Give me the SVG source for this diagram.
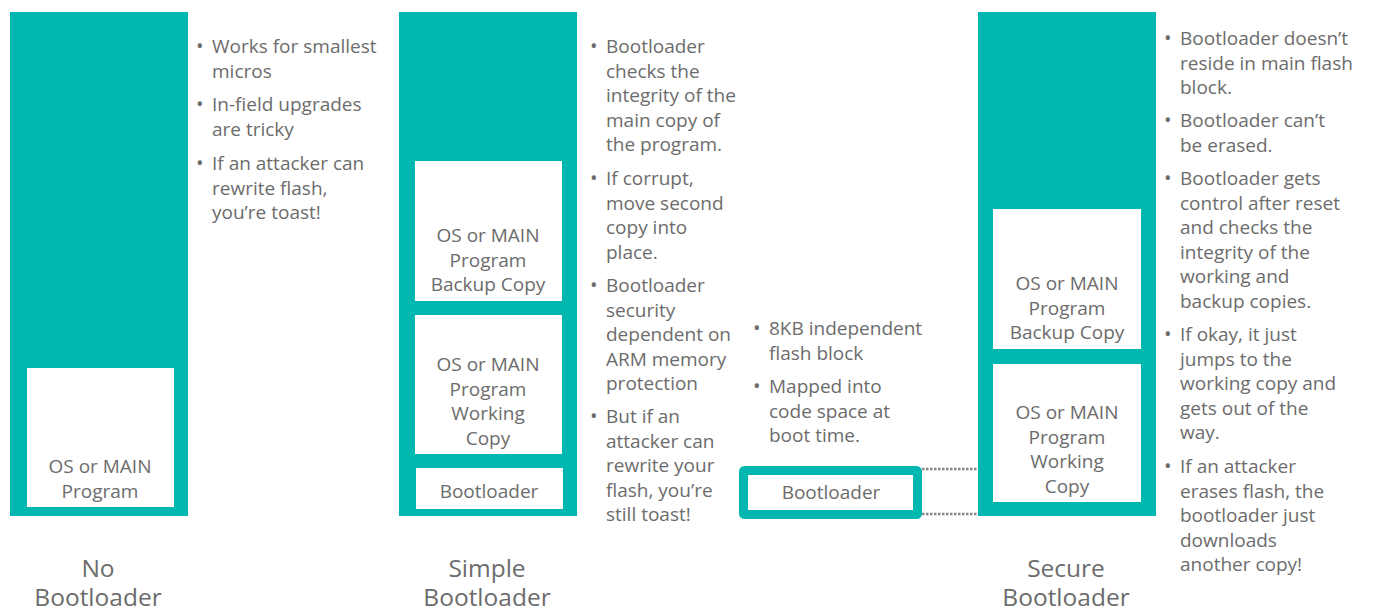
<svg xmlns="http://www.w3.org/2000/svg" width="1375" height="612" viewBox="0 0 1375 612">
<style>
.t{font-family:"Open Sans","Noto Sans","DejaVu Sans",sans-serif;fill:#6c6c6c}
.b{font-size:19px}
.c{font-size:19px;text-anchor:middle}
.h{font-size:24.5px;text-anchor:middle}
.d{font-size:20px}
.teal{fill:#00B8AF}
.w{fill:#ffffff}
.dot{stroke:#858585;stroke-width:2.5;stroke-dasharray:2.5 1.5;fill:none}
</style>
<rect width="1375" height="612" fill="#ffffff"/>

<g id="no-bootloader">
<rect class="teal" x="10" y="12" width="178" height="504"/>
<rect class="w" x="27" y="368" width="147" height="139"/>
<text class="t c" x="100" y="473">OS or MAIN</text>
<text class="t c" x="100" y="498">Program</text>
<text class="t h" x="98" y="577">No</text>
<text class="t h" x="98" y="606">Bootloader</text>
</g>

<g id="no-bootloader-notes" class="t b">
<text class="t d" x="196" y="53">•</text>
<text x="212" y="53">Works for smallest</text>
<text x="212" y="77.5">micros</text>
<text class="t d" x="196" y="111">•</text>
<text x="212" y="111">In-field upgrades</text>
<text x="212" y="135.5">are tricky</text>
<text class="t d" x="196" y="170">•</text>
<text x="212" y="170">If an attacker can</text>
<text x="212" y="194.5">rewrite flash,</text>
<text x="212" y="219">you’re toast!</text>
</g>

<g id="simple-bootloader">
<rect class="teal" x="399" y="12" width="178" height="504"/>
<rect class="w" x="415" y="161" width="147" height="140"/>
<rect class="w" x="415" y="315" width="147" height="139"/>
<rect class="w" x="416" y="468" width="147" height="41"/>
<text class="t c" x="488" y="242">OS or MAIN</text>
<text class="t c" x="488" y="266.5">Program</text>
<text class="t c" x="488" y="291">Backup Copy</text>
<text class="t c" x="488" y="371">OS or MAIN</text>
<text class="t c" x="488" y="395.5">Program</text>
<text class="t c" x="488" y="420">Working</text>
<text class="t c" x="488" y="444.5">Copy</text>
<text class="t c" x="489" y="498">Bootloader</text>
<text class="t h" x="487" y="577">Simple</text>
<text class="t h" x="487" y="606">Bootloader</text>
</g>

<g id="simple-bootloader-notes" class="t b">
<text class="t d" x="590" y="53">•</text>
<text x="606" y="53">Bootloader</text>
<text x="606" y="77.5">checks the</text>
<text x="606" y="102">integrity of the</text>
<text x="606" y="126.5">main copy of</text>
<text x="606" y="151">the program.</text>
<text class="t d" x="590" y="185">•</text>
<text x="606" y="185">If corrupt,</text>
<text x="606" y="209.5">move second</text>
<text x="606" y="234">copy into</text>
<text x="606" y="258.5">place.</text>
<text class="t d" x="590" y="292">•</text>
<text x="606" y="292">Bootloader</text>
<text x="606" y="316.5">security</text>
<text x="606" y="341">dependent on</text>
<text x="606" y="365.5">ARM memory</text>
<text x="606" y="390">protection</text>
<text class="t d" x="590" y="423">•</text>
<text x="606" y="423">But if an</text>
<text x="606" y="447.5">attacker can</text>
<text x="606" y="472">rewrite your</text>
<text x="606" y="496.5">flash, you’re</text>
<text x="606" y="521">still toast!</text>
</g>

<g id="flash-block-notes" class="t b">
<text class="t d" x="753" y="335">•</text>
<text x="769" y="335">8KB independent</text>
<text x="769" y="359.5">flash block</text>
<text class="t d" x="753" y="393">•</text>
<text x="769" y="393">Mapped into</text>
<text x="769" y="417.5">code space at</text>
<text x="769" y="442">boot time.</text>
</g>

<g id="independent-bootloader">
<rect x="743.5" y="470.5" width="174" height="44" fill="#ffffff" stroke="#00B8AF" stroke-width="9" rx="1"/>
<text class="t c" x="831" y="499">Bootloader</text>
</g>

<g id="connectors">
<line class="dot" x1="922" y1="469" x2="978" y2="469"/>
<line class="dot" x1="922" y1="514" x2="978" y2="514"/>
</g>

<g id="secure-bootloader">
<rect class="teal" x="978" y="12" width="178" height="504"/>
<rect class="w" x="993" y="209" width="148" height="140"/>
<rect class="w" x="993" y="364" width="148" height="138"/>
<text class="t c" x="1067" y="290">OS or MAIN</text>
<text class="t c" x="1067" y="314.5">Program</text>
<text class="t c" x="1067" y="339">Backup Copy</text>
<text class="t c" x="1067" y="419">OS or MAIN</text>
<text class="t c" x="1067" y="443.5">Program</text>
<text class="t c" x="1067" y="468">Working</text>
<text class="t c" x="1067" y="492.5">Copy</text>
<text class="t h" x="1066" y="577">Secure</text>
<text class="t h" x="1066" y="606">Bootloader</text>
</g>

<g id="secure-bootloader-notes" class="t b">
<text class="t d" x="1164" y="45">•</text>
<text x="1180" y="45">Bootloader doesn’t</text>
<text x="1180" y="69.5">reside in main flash</text>
<text x="1180" y="94">block.</text>
<text class="t d" x="1164" y="127">•</text>
<text x="1180" y="127">Bootloader can’t</text>
<text x="1180" y="151.5">be erased.</text>
<text class="t d" x="1164" y="185">•</text>
<text x="1180" y="185">Bootloader gets</text>
<text x="1180" y="209.5">control after reset</text>
<text x="1180" y="234">and checks the</text>
<text x="1180" y="258.5">integrity of the</text>
<text x="1180" y="283">working and</text>
<text x="1180" y="307.5">backup copies.</text>
<text class="t d" x="1164" y="341">•</text>
<text x="1180" y="341">If okay, it just</text>
<text x="1180" y="365.5">jumps to the</text>
<text x="1180" y="390">working copy and</text>
<text x="1180" y="414.5">gets out of the</text>
<text x="1180" y="439">way.</text>
<text class="t d" x="1164" y="473">•</text>
<text x="1180" y="473">If an attacker</text>
<text x="1180" y="497.5">erases flash, the</text>
<text x="1180" y="522">bootloader just</text>
<text x="1180" y="546.5">downloads</text>
<text x="1180" y="571">another copy!</text>
</g>
</svg>
